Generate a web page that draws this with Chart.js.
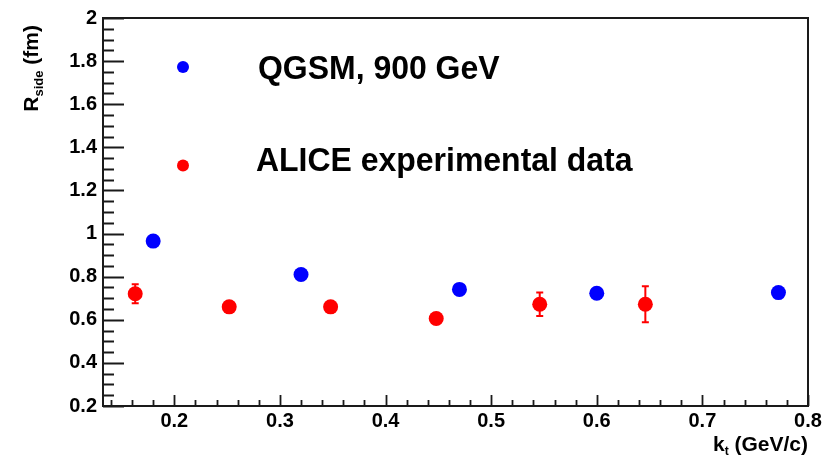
<!DOCTYPE html>
<html>
<head>
<meta charset="utf-8">
<script src="https://cdn.jsdelivr.net/npm/chart.js@4/dist/chart.umd.min.js"></script>
<style>
  html, body { margin: 0; padding: 0; background: #fff; }
  canvas { display: block; }
</style>
</head>
<body>
<canvas id="c" width="839" height="457"></canvas>
<script>
// ---- data ----
const qgsmKt   = [0.180, 0.320, 0.470, 0.600, 0.772];
const qgsmR    = [0.965, 0.810, 0.741, 0.723, 0.726];
const aliceKt  = [0.163, 0.252, 0.348, 0.448, 0.546, 0.646];
const aliceR   = [0.721, 0.660, 0.660, 0.606, 0.672, 0.672];
const aliceErr = [0.044, 0.020, 0.020, 0.020, 0.054, 0.083];

const xTickValues = [0.2, 0.3, 0.4, 0.5, 0.6, 0.7, 0.8];
const yTickValues = [0.2, 0.4, 0.6, 0.8, 1.0, 1.2, 1.4, 1.6, 1.8, 2.0];
const seriesNames = ["QGSM, 900 GeV", "ALICE experimental data"];
const seriesColors = ["#0000ff", "#ff0000"];

const X_MIN = 0.1325, X_MAX = 0.8, Y_MIN = 0.2, Y_MAX = 2.0;
const FONT = '"Liberation Sans", Arial, Helvetica, sans-serif';

const toPts = (xs, ys) => xs.map((x, i) => ({ x: x, y: ys[i] }));

// ROOT-style frame, inward ticks, error bars, legend, axis titles
const rootStyle = {
  id: 'rootStyle',
  beforeDatasetsDraw(chart) {
    const ctx = chart.ctx, xs = chart.scales.x, ys = chart.scales.y;
    ctx.save();
    ctx.strokeStyle = seriesColors[1];
    ctx.lineWidth = 2;
    aliceKt.forEach((k, i) => {
      const px = xs.getPixelForValue(k);
      const pTop = ys.getPixelForValue(aliceR[i] + aliceErr[i]);
      const pBot = ys.getPixelForValue(aliceR[i] - aliceErr[i]);
      ctx.beginPath();
      ctx.moveTo(px, pTop); ctx.lineTo(px, pBot);
      ctx.moveTo(px - 3.5, pTop); ctx.lineTo(px + 3.5, pTop);
      ctx.moveTo(px - 3.5, pBot); ctx.lineTo(px + 3.5, pBot);
      ctx.stroke();
    });
    ctx.restore();
  },
  afterDraw(chart) {
    const ctx = chart.ctx, a = chart.chartArea;
    const xs = chart.scales.x, ys = chart.scales.y;
    ctx.save();
    ctx.strokeStyle = '#1a1a1a';
    ctx.lineWidth = 2;
    ctx.strokeRect(a.left, a.top, a.right - a.left, a.bottom - a.top);

    ctx.lineWidth = 1.8;
    ctx.beginPath();
    for (let i = 0; i <= 36; i++) {
      const v = Y_MIN + i * 0.05;
      const py = Math.round(ys.getPixelForValue(v)) + 0.5;
      const len = (i % 4 === 0) ? 21 : 11;
      ctx.moveTo(a.left, py); ctx.lineTo(a.left + len, py);
    }
    for (let i = 7; i <= 40; i++) {
      const v = i * 0.02;
      if (v < X_MIN - 1e-9) continue;
      const px = Math.round(xs.getPixelForValue(v)) + 0.5;
      const len = (i % 5 === 0) ? 11 : 6;
      ctx.moveTo(px, a.bottom); ctx.lineTo(px, a.bottom - len);
    }
    ctx.stroke();

    // legend
    const legendPos = [
      { mx: a.left + 80, my: a.top + 49, tx: a.left + 155, ty: a.top + 61 },
      { mx: a.left + 80, my: a.top + 147.5, tx: a.left + 153, ty: a.top + 153 }
    ];
    ctx.font = 'bold 34px ' + FONT;
    ctx.textAlign = 'left';
    ctx.textBaseline = 'alphabetic';
    legendPos.forEach((p, i) => {
      ctx.fillStyle = seriesColors[i];
      ctx.beginPath();
      ctx.arc(p.mx, p.my, 6, 0, Math.PI * 2);
      ctx.fill();
      ctx.fillStyle = '#000';
      ctx.save();
      ctx.translate(p.tx, p.ty);
      ctx.scale(0.94, 1);
      ctx.fillText(seriesNames[i], 0, 0);
      ctx.restore();
    });

    // x axis title: k_t (GeV/c), right-aligned to the frame
    ctx.fillStyle = '#000';
    const big = 'bold 21px ' + FONT, small = 'bold 12px ' + FONT;
    ctx.font = big; const wK = ctx.measureText('k').width;
    ctx.font = small; const wT = ctx.measureText('t').width;
    ctx.font = big; const wR = ctx.measureText(' (GeV/c)').width;
    let x0 = a.right - (wK + wT + wR);
    const by = 451;
    ctx.font = big; ctx.fillText('k', x0, by);
    ctx.font = small; ctx.fillText('t', x0 + wK, by + 4);
    ctx.font = big; ctx.fillText(' (GeV/c)', x0 + wK + wT, by);

    // y axis title: R_side (fm), rotated, right-aligned to top
    ctx.save();
    ctx.translate(38, a.top + 7);
    ctx.rotate(-Math.PI / 2);
    const bigY = 'bold 21px ' + FONT, smallY = 'bold 13px ' + FONT;
    ctx.font = bigY; const wR1 = ctx.measureText('R').width;
    ctx.font = smallY; const wS = ctx.measureText('side').width;
    ctx.font = bigY; const wF = ctx.measureText(' (fm)').width;
    let s0 = -(wR1 + wS + wF);
    ctx.font = bigY; ctx.fillText('R', s0, 0);
    ctx.font = smallY; ctx.fillText('side', s0 + wR1, 5);
    ctx.font = bigY; ctx.fillText(' (fm)', s0 + wR1 + wS, 0);
    ctx.restore();

    ctx.restore();
  }
};

new Chart(document.getElementById('c'), {
  type: 'scatter',
  data: {
    datasets: [
      {
        label: seriesNames[0],
        data: toPts(qgsmKt, qgsmR),
        backgroundColor: seriesColors[0],
        borderColor: seriesColors[0],
        borderWidth: 0,
        pointRadius: 7.5,
        pointHoverRadius: 7.5
      },
      {
        label: seriesNames[1],
        data: toPts(aliceKt, aliceR),
        backgroundColor: seriesColors[1],
        borderColor: seriesColors[1],
        borderWidth: 0,
        pointRadius: 7.5,
        pointHoverRadius: 7.5
      }
    ]
  },
  options: {
    responsive: false,
    animation: false,
    devicePixelRatio: 1,
    layout: { padding: { left: 0, right: 31, top: 14, bottom: 0 } },
    plugins: { legend: { display: false }, tooltip: { enabled: false } },
    scales: {
      x: {
        type: 'linear',
        min: X_MIN, max: X_MAX,
        grid: { display: false, drawTicks: false },
        border: { display: false },
        afterBuildTicks: s => { s.ticks = xTickValues.map(v => ({ value: v })); },
        afterFit: s => { s.height = 51; },
        ticks: {
          autoSkip: false, maxRotation: 0, padding: 3,
          color: '#000',
          font: { family: FONT, size: 20, weight: 'bold' },
          callback: v => String(+v.toFixed(1))
        }
      },
      y: {
        type: 'linear',
        min: Y_MIN, max: Y_MAX,
        grid: { display: false, drawTicks: false },
        border: { display: false },
        afterBuildTicks: s => { s.ticks = yTickValues.map(v => ({ value: v })); },
        afterFit: s => { s.width = 103; },
        ticks: {
          autoSkip: false, padding: 6,
          color: '#000',
          font: { family: FONT, size: 20, weight: 'bold' },
          callback: v => String(+v.toFixed(1))
        }
      }
    }
  },
  plugins: [rootStyle]
});
</script>
</body>
</html>
